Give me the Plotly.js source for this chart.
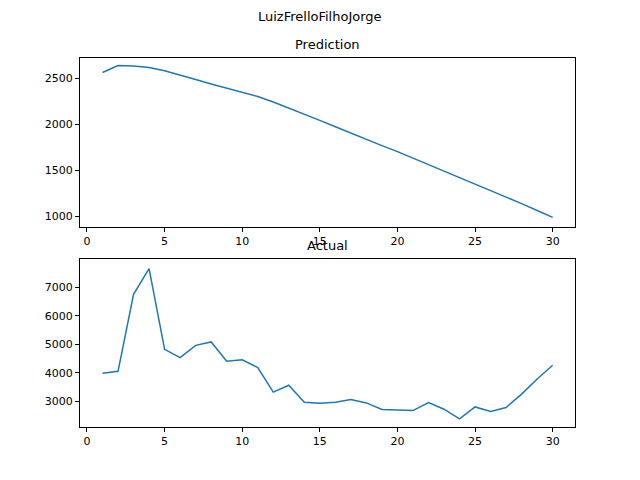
<!DOCTYPE html>
<html>
<head>
<script src="https://cdn.plot.ly/plotly-3.0.1.min.js"></script>
<style>body{margin:0}</style>
</head>
<body>
<div id="plt" style="width:640px;height:480px"></div>
<script>
var days = [];
for (let i = 1; i <= 30; i++) days.push(i);
var prediction = [2560, 2635, 2630, 2615, 2580, 2535, 2485, 2435, 2390, 2350, 2300, 2240, 2175, 2105, 2040, 1970, 1900, 1835, 1765, 1700, 1630, 1560, 1490, 1420, 1350, 1280, 1205, 1135, 1060, 985];
var actual = [3980, 4050, 6750, 7650, 4820, 4530, 4960, 5080, 4400, 4450, 4180, 3320, 3560, 2960, 2930, 2960, 3060, 2940, 2710, 2700, 2670, 2950, 2720, 2380, 2800, 2640, 2780, 3250, 3780, 4260];

var blue = '#1f77b4';
var font = {family: 'DejaVu Sans', size: 13, color: '#000'};

function axis(extra) {
    return Object.assign({
        showgrid: false, zeroline: false, showline: true, mirror: true,
        linecolor: '#000', linewidth: 1, ticks: 'outside', ticklen: 4,
        tickcolor: '#000', tickfont: {family: 'DejaVu Sans', size: 11, color: '#000'}
    }, extra);
}

var d = [
    {x: days, y: prediction, type: 'scatter', mode: 'lines', line: {color: blue, width: 1.5}, xaxis: 'x', yaxis: 'y'},
    {x: days, y: actual, type: 'scatter', mode: 'lines', line: {color: blue, width: 1.5}, xaxis: 'x2', yaxis: 'y2'}
];

var l = {
    width: 640, height: 480, showlegend: false,
    margin: {l: 0, r: 0, t: 0, b: 0},
    paper_bgcolor: '#fff', plot_bgcolor: '#fff',
    xaxis: axis({domain: [0.125, 0.898], range: [-0.45, 31.42], tickvals: [0, 5, 10, 15, 20, 25, 30], anchor: 'y'}),
    yaxis: axis({domain: [0.527, 0.879], range: [880, 2717], tickvals: [1000, 1500, 2000, 2500], anchor: 'x'}),
    xaxis2: axis({domain: [0.125, 0.898], range: [-0.45, 31.42], tickvals: [0, 5, 10, 15, 20, 25, 30], anchor: 'y2'}),
    yaxis2: axis({domain: [0.110, 0.460], range: [2088, 7982], tickvals: [3000, 4000, 5000, 6000, 7000], anchor: 'x2'}),
    annotations: [
        {text: 'LuizFrelloFilhoJorge', x: 0.5, y: 1 - 17 / 480, yanchor: 'middle', xref: 'paper', yref: 'paper', showarrow: false, font: font},
        {text: 'Prediction', x: 0.511, y: 1 - 44 / 480, yanchor: 'middle', xref: 'paper', yref: 'paper', showarrow: false, font: font},
        {text: 'Actual', x: 0.511, y: 1 - 246 / 480, yanchor: 'middle', xref: 'paper', yref: 'paper', showarrow: false, font: font}
    ]
};

Plotly.newPlot('plt', d, l, {displayModeBar: false, staticPlot: true});
</script>
</body>
</html>
